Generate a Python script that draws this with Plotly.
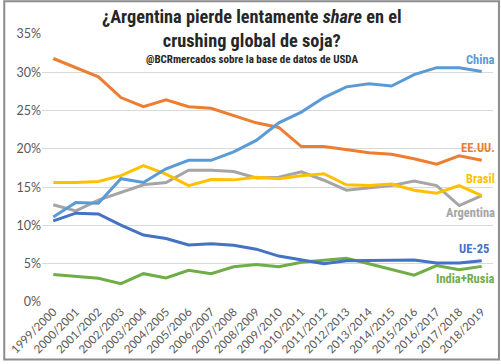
import plotly.graph_objects as go

years = ["1999/2000", "2000/2001", "2001/2002", "2002/2003", "2003/2004", "2004/2005",
         "2005/2006", "2006/2007", "2007/2008", "2008/2009", "2009/2010", "2010/2011",
         "2011/2012", "2012/2013", "2013/2014", "2014/2015", "2015/2016", "2016/2017",
         "2017/2018", "2018/2019"]

china = [11.1, 13.0, 12.9, 16.1, 15.6, 17.4, 18.5, 18.5, 19.6, 21.1, 23.4, 24.8,
         26.7, 28.1, 28.5, 28.2, 29.7, 30.6, 30.6, 30.1]
eeuu = [31.8, 30.6, 29.4, 26.7, 25.5, 26.4, 25.5, 25.3, 24.3, 23.4, 22.8, 20.3,
        20.3, 19.9, 19.5, 19.3, 18.7, 18.0, 19.1, 18.5]
brasil = [15.6, 15.6, 15.75, 16.5, 17.8, 16.7, 15.2, 16.0, 15.95, 16.3, 16.1, 16.5,
          16.75, 15.3, 15.2, 15.4, 14.6, 14.2, 15.2, 13.9]
argentina = [12.7, 11.9, 13.3, 14.3, 15.3, 15.6, 17.2, 17.2, 17.05, 16.2, 16.3, 17.0,
             15.9, 14.6, 14.9, 15.2, 15.8, 15.2, 12.6, 13.9]
ue25 = [10.6, 11.6, 11.5, 10.05, 8.75, 8.3, 7.45, 7.6, 7.4, 6.9, 6.0, 5.5,
        5.0, 5.4, 5.45, 5.5, 5.5, 5.1, 5.1, 5.4]
india_rusia = [3.6, 3.4, 3.1, 2.4, 3.7, 3.15, 4.15, 3.7, 4.6, 4.9, 4.6, 5.2,
               5.5, 5.7, 5.0, 4.2, 3.5, 4.75, 4.2, 4.65]

series = [
    ("Argentina", argentina, "#A5A5A5"),
    ("Brasil", brasil, "#FFC000"),
    ("India+Rusia", india_rusia, "#70AD47"),
    ("UE-25", ue25, "#4472C4"),
    ("EE.UU.", eeuu, "#ED7D31"),
    ("China", china, "#5B9BD5"),
]

label_pos = {
    "China": 0.906, "EE.UU.": 0.578, "Brasil": 0.460,
    "Argentina": 0.334, "UE-25": 0.201, "India+Rusia": 0.086,
}
label_right = {
    "China": 1.0096, "EE.UU.": 1.0096, "Brasil": 1.0096,
    "Argentina": 1.0096, "UE-25": 0.995, "India+Rusia": 1.0096,
}

fig = go.Figure()
for name, vals, color in series:
    fig.add_trace(go.Scatter(
        x=years, y=[v / 100 for v in vals], mode="lines", name=name,
        line=dict(color=color, width=3), showlegend=False,
    ))

cond = "Roboto Condensed, DejaVu Sans Condensed, sans-serif"
annotations = []
for name, vals, color in series:
    annotations.append(dict(
        x=label_right[name], y=label_pos[name], xref="paper", yref="paper",
        xanchor="right", yanchor="middle", showarrow=False,
        text="<b>" + name + "</b>",
        font=dict(family=cond, size=12.5, color=color),
    ))

annotations.append(dict(
    x=0.466, y=1.022, xref="paper", yref="paper", xanchor="center", yanchor="middle",
    showarrow=False,
    text="<b>¿Argentina pierde lentamente <i>share</i> en el<br>crushing global de soja?</b>",
    font=dict(family=cond, size=18.3, color="#262626"),
))
annotations.append(dict(
    x=0.466, y=0.903, xref="paper", yref="paper", xanchor="center", yanchor="middle",
    showarrow=False,
    text="<b>@BCRmercados sobre la base de datos de USDA</b>",
    font=dict(family=cond, size=11, color="#262626"),
))

fig.update_layout(
    width=501, height=364,
    margin=dict(l=39, r=8, t=34, b=60),
    paper_bgcolor="white", plot_bgcolor="white",
    annotations=annotations,
    xaxis=dict(
        type="category", range=[-0.5, 19.5], tickangle=-45, showgrid=False,
        showline=False, ticks="", zeroline=False,
        tickfont=dict(family="Lato, sans-serif", size=11.5, color="#595959"),
    ),
    yaxis=dict(
        range=[0, 0.35], tickvals=[0, 0.05, 0.10, 0.15, 0.20, 0.25, 0.30, 0.35],
        tickformat=".0%", showgrid=True, gridcolor="#D9D9D9", gridwidth=1,
        zeroline=False, showline=False, ticks="",
        tickfont=dict(family="Lato, sans-serif", size=12.5, color="#595959"),
    ),
    shapes=[dict(
        type="rect", xref="paper", yref="paper",
        x0=(1 - 39) / 454, x1=(499 - 39) / 454,
        y0=(304 - 362) / 270, y1=(304 - 1) / 270,
        line=dict(color="#8C8C8C", width=2), fillcolor="rgba(0,0,0,0)", layer="above",
    )],
)

fig.write_html("out.html", post_script="document.body.style.margin='0';",
               config={"displayModeBar": False})
